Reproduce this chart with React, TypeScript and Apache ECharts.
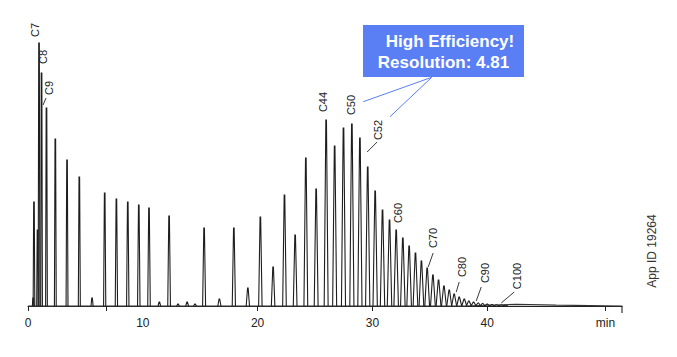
import React, { useEffect, useRef } from "react";
import * as echarts from "echarts";

// Retention times (min) and heights (signal units) of the main peaks
const peakTimes = [
  0.52, 0.83, 0.96, 1.18, 1.61, 2.38, 3.4, 4.47, 6.68, 7.7, 8.69, 9.65, 10.54, 12.29, 15.34,
  17.93, 20.24, 21.35, 22.34, 23.27, 24.2, 25.1, 25.97, 26.71, 27.48, 28.21, 28.91, 29.59,
  30.24, 30.88, 31.49, 32.07, 32.65, 33.2, 33.75, 34.27, 34.77, 35.27, 35.76, 36.23, 36.69,
  37.12, 37.56, 38.0, 38.4, 38.81, 39.22, 39.6, 40.0, 40.4, 40.8, 41.2, 41.6,
];
const peakHeights = [
  104, 76, 263, 233, 198, 167, 146, 129, 113, 107, 104, 101, 98, 90, 78, 78, 89, 39, 111, 71,
  148, 117, 186, 160, 178, 182, 168, 139, 115, 96, 86, 76, 68, 60, 53, 45, 38, 31, 26, 20, 16,
  12, 9, 7, 5, 4, 3, 2.5, 2, 1.5, 1.2, 1, 0.8,
];
// Small impurity bumps
const minorTimes = [0.45, 5.58, 11.44, 13.07, 13.86, 14.55, 16.67, 19.15];
const minorHeights = [8, 8, 4, 2, 4, 2, 7, 18];

// Baseline drift (time, level)
const baselineTimes = [0, 38, 42.5, 46, 51.74, 51.74];
const baselineLevels = [0, 0, 1.7, 0.9, 0, -7];

// Peak labels
const labelNames = ["C7", "C8", "C9", "C44", "C50", "C52", "C60", "C70", "C80", "C90", "C100"];
const labelTimes = [0.61, 1.31, 1.83, 25.71, 28.15, 30.5, 32.24, 35.29, 37.82, 39.83, 42.61];
const labelLevels = [276, 249, 218, 204, 201, 176, 93, 68, 39, 33, 30];
// Leader lines [t1, v1, t2, v2]
const leaders = [
  [1.31, 201, 1.57, 208],
  [29.54, 154, 30.41, 164],
  [34.86, 39, 35.29, 53],
  [37.3, 14, 37.56, 24],
  [39.04, 5, 39.48, 19],
  [41.22, 3, 42.35, 14],
];

const axisLabelValues = [0, 10, 20, 30, 40, 50.3];
const axisTickValues = [0, 6.8, 20, 30, 40, 50.3];

export default function App() {
  const ref = useRef<HTMLDivElement>(null);
  useEffect(() => {
    if (!ref.current) return;
    const chart = echarts.init(ref.current, undefined, { renderer: "svg" });
    const allPeaks = peakTimes
      .map((t, i) => [t, peakHeights[i]])
      .concat(minorTimes.map((t, i) => [t, minorHeights[i]]));
    const blue = "#5a7ff5";
    const font = "'Liberation Sans', Arial, sans-serif";
    chart.setOption({
      animation: false,
      grid: { left: 28, right: 55, top: 10, bottom: 44 },
      xAxis: {
        type: "value",
        min: 0,
        max: 51.74,
        splitLine: { show: false },
        axisLine: { show: true, lineStyle: { color: "#222", width: 1.2 } },
        axisTick: {
          show: true,
          length: 5,
          lineStyle: { color: "#222", width: 1 },
          customValues: axisTickValues,
        },
        axisLabel: {
          customValues: axisLabelValues,
          margin: 4,
          color: "#222",
          fontSize: 12,
          fontFamily: font,
          formatter: (v: number) => (v > 45 ? "min" : String(v)),
        },
      },
      yAxis: { type: "value", min: -7, max: 296, show: false, splitLine: { show: false } },
      series: [
        {
          type: "line",
          data: baselineTimes.map((t, i) => [t, baselineLevels[i]]),
          symbol: "none",
          lineStyle: { color: "#333", width: 1.2 },
          z: 1,
        },
        {
          type: "custom",
          data: allPeaks,
          z: 2,
          renderItem: (params: any, api: any) => {
            const t = api.value(0);
            const h = api.value(1);
            const top = api.coord([t, h]);
            const by = api.coord([t, 0])[1];
            const hw = 0.8 + t * 0.045;
            return {
              type: "polyline",
              shape: {
                points: [
                  [top[0] - hw, by],
                  [top[0] - 0.3, top[1]],
                  [top[0] + 0.3, top[1]],
                  [top[0] + hw, by],
                ],
              },
              style: { fill: null, stroke: "#1e1e1e", lineWidth: 1.1 },
            };
          },
        },
        {
          type: "custom",
          data: labelNames.map((n, i) => [labelTimes[i], labelLevels[i]]),
          z: 3,
          renderItem: (params: any, api: any) => {
            const p = api.coord([api.value(0), api.value(1)]);
            return {
              type: "text",
              x: p[0],
              y: p[1],
              rotation: Math.PI / 2,
              style: {
                text: labelNames[params.dataIndex],
                fill: "#222",
                fontSize: 11,
                fontFamily: font,
                align: "center",
                verticalAlign: "middle",
              },
            };
          },
        },
        {
          type: "custom",
          data: leaders,
          z: 3,
          renderItem: (params: any, api: any) => {
            const a = api.coord([api.value(0), api.value(1)]);
            const b = api.coord([api.value(2), api.value(3)]);
            return {
              type: "line",
              shape: { x1: a[0], y1: a[1], x2: b[0], y2: b[1] },
              style: { stroke: "#222", lineWidth: 0.9 },
            };
          },
        },
      ],
      graphic: [
        {
          type: "rect",
          shape: { x: 363, y: 25, width: 161, height: 52 },
          style: { fill: blue },
        },
        {
          type: "text",
          x: 450,
          y: 41,
          style: {
            text: "High Efficiency!",
            fill: "#fff",
            fontSize: 17,
            fontWeight: "bold",
            fontFamily: font,
            align: "center",
            verticalAlign: "middle",
          },
        },
        {
          type: "text",
          x: 443.5,
          y: 62,
          style: {
            text: "Resolution: 4.81",
            fill: "#fff",
            fontSize: 17,
            fontWeight: "bold",
            fontFamily: font,
            align: "center",
            verticalAlign: "middle",
          },
        },
        {
          type: "line",
          shape: { x1: 431.7, y1: 77.3, x2: 363.3, y2: 101.7 },
          style: { stroke: blue, lineWidth: 1 },
        },
        {
          type: "line",
          shape: { x1: 431.7, y1: 77.3, x2: 390, y2: 116.7 },
          style: { stroke: blue, lineWidth: 1 },
        },
        {
          type: "text",
          x: 652,
          y: 251,
          rotation: Math.PI / 2,
          style: {
            text: "App ID 19264",
            fill: "#333",
            fontSize: 12,
            fontFamily: font,
            align: "center",
            verticalAlign: "middle",
          },
        },
      ],
    });
    return () => chart.dispose();
  }, []);
  return (
    <div
      ref={ref}
      style={{ position: "absolute", left: 0, top: 0, width: 677, height: 357, background: "#fff" }}
    />
  );
}
